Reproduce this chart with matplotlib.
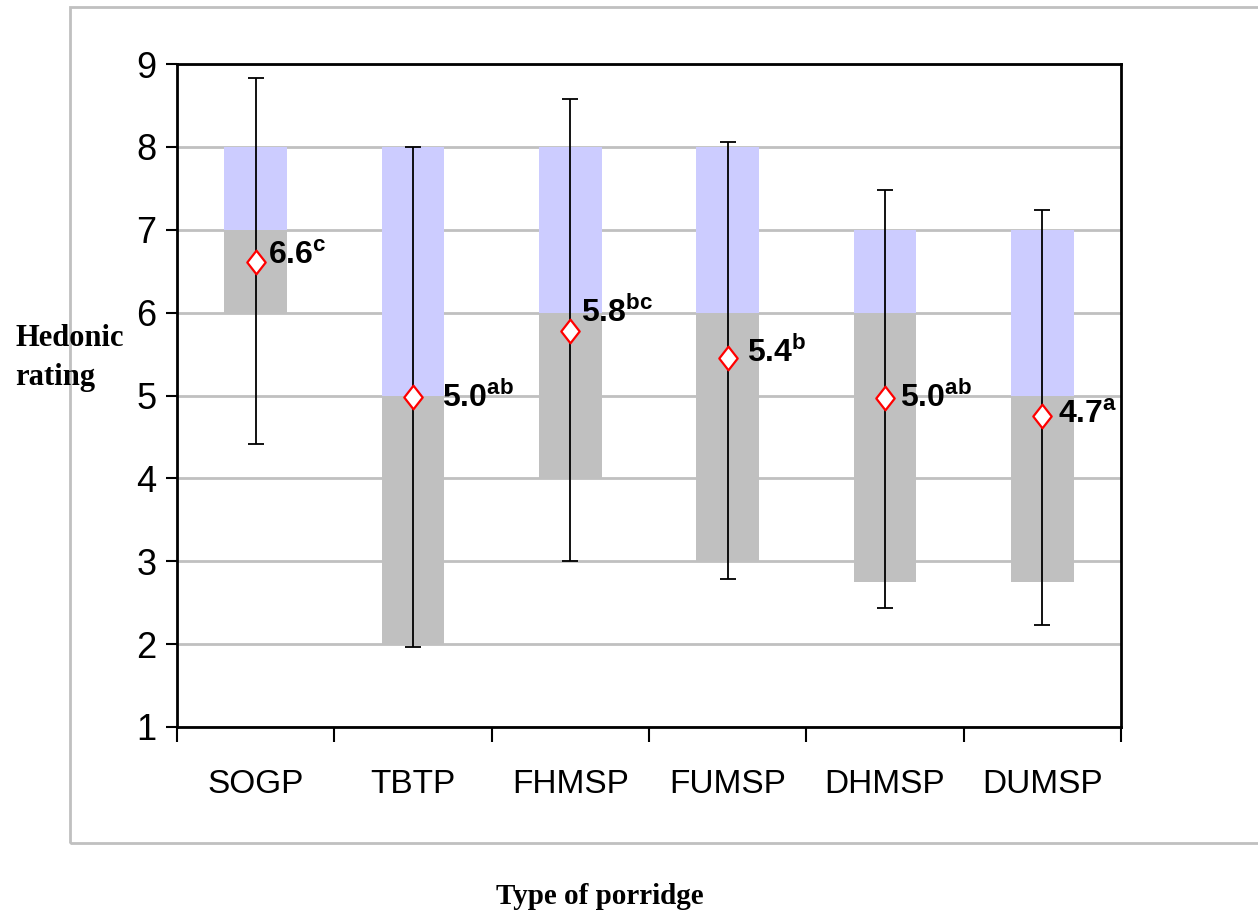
import matplotlib
matplotlib.use("Agg")
import matplotlib.pyplot as plt
from matplotlib.patches import Rectangle
from matplotlib.path import Path
import numpy as np

# porridge types and hedonic scores
porridge = ["SOGP", "TBTP", "FHMSP", "FUMSP", "DHMSP", "DUMSP"]
q1 = [6, 2, 4, 3, 2.75, 2.75]
median = [7, 5, 6, 6, 6, 5]
q3 = [8, 8, 8, 8, 7, 7]
low = [4.42, 1.97, 3.0, 2.79, 2.44, 2.23]
high = [8.83, 8.0, 8.58, 8.06, 7.48, 7.24]
mean = [6.61, 4.98, 5.78, 5.45, 4.97, 4.75]
mean_txt = ["6.6", "5.0", "5.8", "5.4", "5.0", "4.7"]
letters = ["c", "ab", "bc", "b", "ab", "a"]

# label offsets (points) so the text sits like in the original
lab_dx = [9, 21, 8, 14, 11, 11]
lab_dy = [5, 0, 13, 4, 0, 1]

plt.rcParams["mathtext.fontset"] = "custom"
plt.rcParams["mathtext.bf"] = "Liberation Sans:bold"
plt.rcParams["mathtext.rm"] = "Liberation Sans"

fig = plt.figure(figsize=(12.58, 9.16), dpi=100)
ax = fig.add_axes([177/1258, 1-727/916, (1121-177)/1258, (727-64)/916])

# outer chart border
fig.patches.append(Rectangle((70/1258, 1-843/916), 1.2, (843-7)/916,
                             transform=fig.transFigure, fill=False,
                             edgecolor="#c0c0c0", linewidth=2))

x = np.arange(len(porridge))
q1a, meda, q3a = np.array(q1), np.array(median), np.array(q3)
ax.bar(x, meda - q1a, bottom=q1a, width=0.4, color="#c0c0c0", zorder=2)
ax.bar(x, q3a - meda, bottom=meda, width=0.4, color="#ccccff", zorder=2)

m = np.array(mean)
ax.errorbar(x, m, yerr=[m - np.array(low), np.array(high) - m], fmt="none",
            ecolor="black", elinewidth=1.3, capsize=6, capthick=1.3, zorder=3)

diamond = Path([(0, 1), (0.78, 0), (0, -1), (-0.78, 0), (0, 1)],
               [Path.MOVETO, Path.LINETO, Path.LINETO, Path.LINETO, Path.CLOSEPOLY])
ax.plot(x, m, linestyle="none", marker=diamond, markersize=17,
        markerfacecolor="white", markeredgecolor="red", markeredgewidth=1.6, zorder=4)

for i in range(len(porridge)):
    ax.annotate(r"$\mathbf{%s}^{\mathbf{%s}}$" % (mean_txt[i], letters[i]),
                (x[i], m[i]), xytext=(lab_dx[i], lab_dy[i]), textcoords="offset points",
                ha="left", va="center", fontsize=23, zorder=5)

ax.set_xlim(-0.5, 5.5)
ax.set_ylim(1, 9)
ax.set_yticks(range(1, 10))
ax.yaxis.grid(True, color="#c0c0c0", linewidth=2, zorder=0)
ax.set_axisbelow(True)
for s in ax.spines.values():
    s.set_linewidth(2)
    s.set_color("black")

ax.tick_params(axis="y", direction="out", length=8, width=1.5, pad=7)
for lbl in ax.get_yticklabels():
    lbl.set_fontfamily("Liberation Sans")
    lbl.set_fontsize(26)

ax.set_xticks(x)
ax.set_xticklabels(porridge, family=["Liberation Sans Narrow", "Liberation Sans"], fontsize=24)
ax.tick_params(axis="x", which="major", length=0, pad=30)
ax.set_xticks(np.arange(-0.5, 6, 1), minor=True)
ax.tick_params(axis="x", which="minor", length=11, width=1.5, direction="out")

fig.text(15/1258, 1-358/916, "Hedonic\nrating", family="Liberation Serif",
         fontweight="bold", fontsize=22, ha="left", va="center", linespacing=1.45)
fig.text(600/1258, 1-897/916, "Type of porridge", family="Liberation Serif",
         fontweight="bold", fontsize=21, ha="center", va="center")

fig.savefig("out.png", dpi=100)
